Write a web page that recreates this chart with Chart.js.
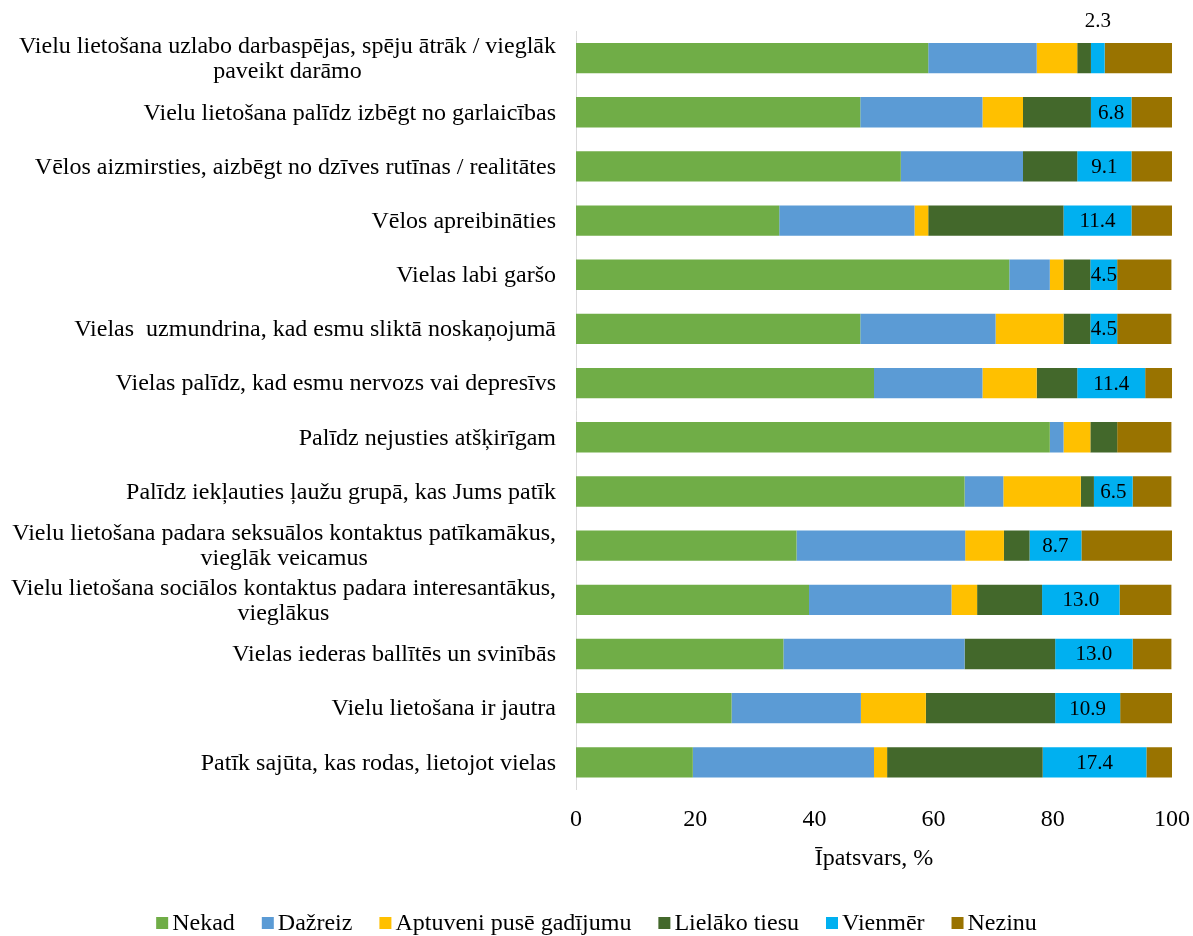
<!DOCTYPE html>
<html>
<head>
<meta charset="utf-8">
<script src="https://cdn.jsdelivr.net/npm/chart.js@4"></script>
<style>
  html, body { margin: 0; padding: 0; background: #fff; }
  #wrap { width: 1193px; height: 936px; }
</style>
</head>
<body>
<div id="wrap"><canvas id="myChart"></canvas></div>
<script>
const categories = [
  ["Vielu lietošana uzlabo darbaspējas, spēju ātrāk / vieglāk", "paveikt darāmo"],
  "Vielu lietošana palīdz izbēgt no garlaicības",
  "Vēlos aizmirsties, aizbēgt no dzīves rutīnas / realitātes",
  "Vēlos apreibināties",
  "Vielas labi garšo",
  "Vielas  uzmundrina, kad esmu sliktā noskaņojumā",
  "Vielas palīdz, kad esmu nervozs vai depresīvs",
  "Palīdz nejusties atšķirīgam",
  "Palīdz iekļauties ļaužu grupā, kas Jums patīk",
  ["Vielu lietošana padara seksuālos kontaktus patīkamākus,", "vieglāk veicamus"],
  ["Vielu lietošana sociālos kontaktus padara interesantākus,", "vieglākus"],
  "Vielas iederas ballītēs un svinībās",
  "Vielu lietošana ir jautra",
  "Patīk sajūta, kas rodas, lietojot vielas"
];

const nekad     = [59.1, 47.7, 54.5, 34.1, 72.7, 47.7, 50.0, 79.5, 65.2, 37.0, 39.1, 34.8, 26.1, 19.6];
const dazreiz   = [18.2, 20.5, 20.5, 22.7,  6.8, 22.7, 18.2,  2.3,  6.5, 28.3, 23.9, 30.4, 21.7, 30.4];
const aptuveni  = [ 6.8,  6.8,  0.0,  2.3,  2.3, 11.4,  9.1,  4.5, 13.0,  6.5,  4.3,  0.0, 10.9,  2.2];
const lielako   = [ 2.3, 11.4,  9.1, 22.7,  4.5,  4.5,  6.8,  4.5,  2.2,  4.3, 10.9, 15.2, 21.7, 26.1];
const vienmer   = [ 2.3,  6.8,  9.1, 11.4,  4.5,  4.5, 11.4,  0.0,  6.5,  8.7, 13.0, 13.0, 10.9, 17.4];
const nezinu    = [11.4,  6.8,  6.8,  6.8,  9.1,  9.1,  4.5,  9.1,  6.5, 15.2,  8.7,  6.5,  8.7,  4.3];

const seriesNames = ["Nekad", "Dažreiz", "Aptuveni pusē gadījumu", "Lielāko tiesu", "Vienmēr", "Nezinu"];
const seriesData = [nekad, dazreiz, aptuveni, lielako, vienmer, nezinu];
const colors = ["#70AD47", "#5B9BD5", "#FFC000", "#43682B", "#00B0F0", "#997300"];

const FONT = '"Liberation Serif", "Times New Roman", serif';
Chart.defaults.font.family = FONT;
Chart.defaults.font.size = 24;
Chart.defaults.color = "#000";

// kategoriju nosaukumi: vienas rindas pa labi, divu rindu centrēti zem pirmās
const yLabels = {
  id: "yLabels",
  afterDraw(chart) {
    const ctx = chart.ctx;
    const y = chart.scales.y;
    const right = chart.chartArea.left - 20;
    ctx.save();
    ctx.font = "24px " + FONT;
    ctx.fillStyle = "#000";
    ctx.textBaseline = "middle";
    categories.forEach((cat, i) => {
      const lines = [].concat(cat);
      const yc = y.getPixelForTick(i);
      const w = Math.max(...lines.map(l => ctx.measureText(l).width));
      lines.forEach((l, j) => {
        const yy = yc + 1 + (j - (lines.length - 1) / 2) * 25;
        if (lines.length > 1) {
          ctx.textAlign = "center";
          ctx.fillText(l, right - w / 2, yy);
        } else {
          ctx.textAlign = "right";
          ctx.fillText(l, right, yy);
        }
      });
    });
    ctx.restore();
  }
};

// vērtības tikai sērijai "Vienmēr"
const valueLabels = {
  id: "valueLabels",
  afterDatasetsDraw(chart) {
    const ctx = chart.ctx;
    const meta = chart.getDatasetMeta(4);
    ctx.save();
    ctx.font = "21px " + FONT;
    ctx.fillStyle = "#000";
    ctx.textAlign = "center";
    ctx.textBaseline = "middle";
    meta.data.forEach((bar, i) => {
      const v = vienmer[i];
      if (!v) return;
      const txt = v.toFixed(1);
      const w = ctx.measureText(txt).width;
      const segW = Math.abs(bar.x - bar.base);
      const cx = (bar.x + bar.base) / 2;
      if (w > segW + 6) {
        ctx.fillText(txt, cx, bar.y - bar.height / 2 - 21);
      } else {
        ctx.fillText(txt, cx, bar.y + 1);
      }
    });
    ctx.restore();
  }
};

// leģenda apakšā (kvadrāts tieši pie teksta)
const bottomLegend = {
  id: "bottomLegend",
  afterDraw(chart) {
    const ctx = chart.ctx;
    const box = 12, gap = 4, spacing = 27;
    ctx.save();
    ctx.font = "24px " + FONT;
    ctx.textBaseline = "middle";
    ctx.textAlign = "left";
    const items = chart.data.datasets.map(ds => ({
      text: ds.label, color: ds.backgroundColor, w: ctx.measureText(ds.label).width
    }));
    const total = items.reduce((s, it) => s + box + gap + it.w, 0) + spacing * (items.length - 1);
    let x = (chart.width - total) / 2;
    const y = chart.height - 12;
    items.forEach(it => {
      ctx.fillStyle = it.color;
      ctx.fillRect(x, y - box / 2 - 1, box, box);
      ctx.fillStyle = "#000";
      ctx.fillText(it.text, x + box + gap, y);
      x += box + gap + it.w + spacing;
    });
    ctx.restore();
  }
};

new Chart(document.getElementById("myChart"), {
  type: "bar",
  data: {
    labels: categories,
    datasets: seriesNames.map((name, k) => ({
      label: name,
      data: seriesData[k],
      backgroundColor: colors[k],
      borderWidth: 0,
      categoryPercentage: 0.56,
      barPercentage: 1
    }))
  },
  options: {
    indexAxis: "y",
    responsive: true,
    maintainAspectRatio: false,
    animation: false,
    layout: { padding: { top: 31, right: 21, bottom: 63, left: 0 } },
    scales: {
      x: {
        stacked: true,
        min: 0,
        max: 100,
        ticks: { stepSize: 20, padding: 8 },
        grid: { display: false },
        border: { display: false },
        title: { display: true, text: "Īpatsvars, %", padding: { top: 2, bottom: 0 } },
        afterFit(scale) { scale.paddingLeft = 0; scale.paddingRight = 0; }
      },
      y: {
        stacked: true,
        grid: { display: false, drawTicks: false },
        border: { color: "#D9D9D9", width: 1 },
        ticks: { display: false },
        afterFit(scale) { scale.width = 576; }
      }
    },
    plugins: {
      legend: { display: false },
      tooltip: { enabled: false }
    }
  },
  plugins: [yLabels, valueLabels, bottomLegend]
});
</script>
</body>
</html>
